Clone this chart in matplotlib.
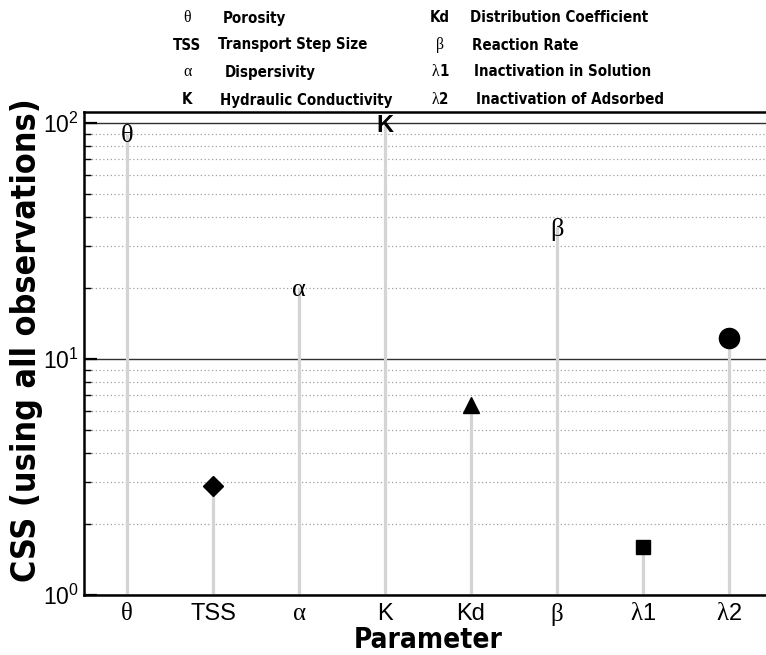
import matplotlib
matplotlib.use('Agg')
import matplotlib.pyplot as plt
from matplotlib import font_manager
from matplotlib.font_manager import FontProperties
from matplotlib.offsetbox import TextArea, HPacker, AnnotationBbox
from matplotlib.ticker import LogLocator, NullFormatter, FixedLocator, FixedFormatter
import numpy as np

# ---------------- data ----------------
params = ['θ', 'TSS', 'α', 'K', 'Kd', 'β', 'λ1', 'λ2']
css = [90, 2.9, 20, 100, 6.4, 36, 1.6, 12.2]
marker_kind = ['text', 'D', 'text', 'textbold', '^', 'text', 's', 'o']
ytick_vals = [1, 10, 100]
ytick_labels = [r'$\mathregular{10^{0}}$', r'$\mathregular{10^{1}}$', r'$\mathregular{10^{2}}$']
legend_symbols = [['θ', 'TSS', 'α', 'K'], ['Kd', 'β', 'λ1', 'λ2']]
legend_desc = [['Porosity', 'Transport Step Size', 'Dispersivity', 'Hydraulic Conductivity'],
               ['Distribution Coefficient', 'Reaction Rate', 'Inactivation in Solution',
                'Inactivation of Adsorbed']]
xlabel = 'Parameter'
ylabel = 'CSS (using all observations)'

# ---------------- fonts ----------------
flist = font_manager.fontManager.ttflist
names = {f.name for f in flist}
SANS = 'Liberation Sans' if 'Liberation Sans' in names else 'DejaVu Sans'
SERIF = 'Liberation Serif' if 'Liberation Serif' in names else 'DejaVu Serif'
plt.rcParams['font.family'] = [SANS, 'DejaVu Sans']


def find_condensed_bold():
    pref = []
    for f in flist:
        narrowish = ('Narrow' in f.name or 'Condensed' in f.name or
                     'Narrow' in f.fname or 'Condensed' in f.fname or
                     str(f.stretch) in ('condensed', 'semi-condensed'))
        bold = (f.weight in ('bold', 700, 'heavy', 800) or 'Bold' in f.fname)
        italic = f.style != 'normal' or 'Oblique' in f.fname or 'Italic' in f.fname
        if narrowish and bold and not italic:
            pref.append(f)
    order = ['LiberationSansNarrow', 'ArialNarrow', 'DejaVuSansCondensed', 'RobotoCondensed']
    for key in order:
        for f in pref:
            if key.lower() in f.fname.replace('-', '').replace('_', '').lower():
                return FontProperties(fname=f.fname)
    if pref:
        return FontProperties(fname=pref[0].fname)
    return FontProperties(family=SANS, weight='bold')


COND = find_condensed_bold()
GREEK = set('θαβλ')


def split_runs(s):
    runs = []
    for ch in s:
        g = ch in GREEK
        if runs and runs[-1][1] == g:
            runs[-1][0] += ch
        else:
            runs.append([ch, g])
    return runs


def mixed_box(s, size, bold):
    kids = []
    for txt, g in split_runs(s):
        if g:
            props = dict(family=SERIF, size=size * 1.05, weight='normal', color='black')
        elif bold:
            fp = COND.copy()
            fp.set_size(size)
            props = dict(fontproperties=fp, color='black')
        else:
            props = dict(family=SANS, size=size, weight='normal', color='black')
        kids.append(TextArea(txt, textprops=props))
    return HPacker(children=kids, pad=0, sep=0, align='baseline')


W, H = 766, 655
fig = plt.figure(figsize=(W / 100, H / 100), dpi=100)
ax = fig.add_axes([84 / W, 1 - 595 / H, (772 - 84) / W, (595 - 112) / H])
renderer = fig.canvas.get_renderer()


def fit(t, target_px):
    bb = t.get_window_extent(renderer)
    w = bb.width if t.get_rotation() == 0 else bb.height
    t.set_fontsize(t.get_fontsize() * target_px / w)

# ---------------- axes ----------------
ax.set_yscale('log')
ax.set_ylim(1, 111)
ax.set_xlim(0.5, 8.5)
x = np.arange(1, len(params) + 1)

ax.yaxis.set_major_locator(FixedLocator(ytick_vals))
ax.yaxis.set_major_formatter(FixedFormatter(ytick_labels))
ax.yaxis.set_minor_locator(LogLocator(base=10, subs=np.arange(2, 10)))
ax.yaxis.set_minor_formatter(NullFormatter())
ax.tick_params(axis='y', which='major', direction='in', length=9.5, width=1.6,
               labelsize=16.5, pad=4)
ax.tick_params(axis='y', which='minor', direction='in', length=5, width=1.0)
ax.set_xticks(x)
ax.set_xticklabels([])
ax.tick_params(axis='x', length=0)

ax.grid(which='major', axis='y', color='#303030', lw=1.0, zorder=0)
ax.grid(which='minor', axis='y', color='#a0a0a0', lw=0.9, ls=(0, (1, 2)), zorder=0)
ax.set_axisbelow(True)
for sp in ['left', 'bottom', 'top']:
    ax.spines[sp].set_linewidth(1.8)
ax.spines['right'].set_visible(False)

# stems
ax.vlines(x, 1, css, colors='#d4d4d4', lw=2.3, zorder=2)
ms_map = {'D': 10, '^': 12, 's': 10.5, 'o': 14.5}
for xi, v, k, p in zip(x, css, marker_kind, params):
    if k in ms_map:
        ax.plot(xi, v, marker=k, ms=ms_map[k], color='black', mec='black', zorder=4,
                clip_on=False)
    elif k == 'text':
        ax.text(xi, v, p, ha='center', va='center_baseline', family=SERIF, size=19,
                zorder=5)
    else:
        ax.text(xi, v, p, ha='center', va='center_baseline', family=SANS, size=17,
                weight='bold', zorder=5, clip_on=False)

# x tick labels (mixed fonts)
for xi, p in zip(x, params):
    ab = AnnotationBbox(mixed_box(p, 17, False), (xi, 0), xycoords=('data', 'axes fraction'),
                        xybox=(0, -6), boxcoords='offset points', box_alignment=(0.5, 1),
                        frameon=False, pad=0, annotation_clip=False)
    ax.add_artist(ab)

# axis labels
xl = fig.text(428 / W, 1 - 648 / H, xlabel, ha='center', va='baseline',
              fontproperties=COND.copy())
xl.set_fontsize(22)
fit(xl, 148)
yl = fig.text(27 / W, 1 - 340 / H, ylabel, ha='center', va='center', rotation=90,
              fontproperties=COND.copy())
yl.set_fontsize(22)
fit(yl, 480)

# ---------------- top legend ----------------
row_y = [18, 45, 72, 100]
sym_x = [187, 440]
desc_x = [[223, 218, 225, 220], [470, 472, 474, 476]]
probe = fig.text(0, 0, legend_desc[0][3], fontproperties=COND.copy())
probe.set_fontsize(12)
fit(probe, 172)
leg_size = probe.get_fontsize()
probe.remove()
for c in range(2):
    for r in range(4):
        ab = AnnotationBbox(mixed_box(legend_symbols[c][r], leg_size, True),
                            (sym_x[c], H - row_y[r]), xycoords='figure pixels',
                            box_alignment=(0.5, 0.5), frameon=False, pad=0,
                            annotation_clip=False)
        fig.add_artist(ab)
        t = fig.text(desc_x[c][r] / W, 1 - row_y[r] / H, legend_desc[c][r], ha='left',
                     va='center', fontproperties=COND.copy())
        t.set_fontsize(leg_size)

fig.savefig('out.png', dpi=100)
